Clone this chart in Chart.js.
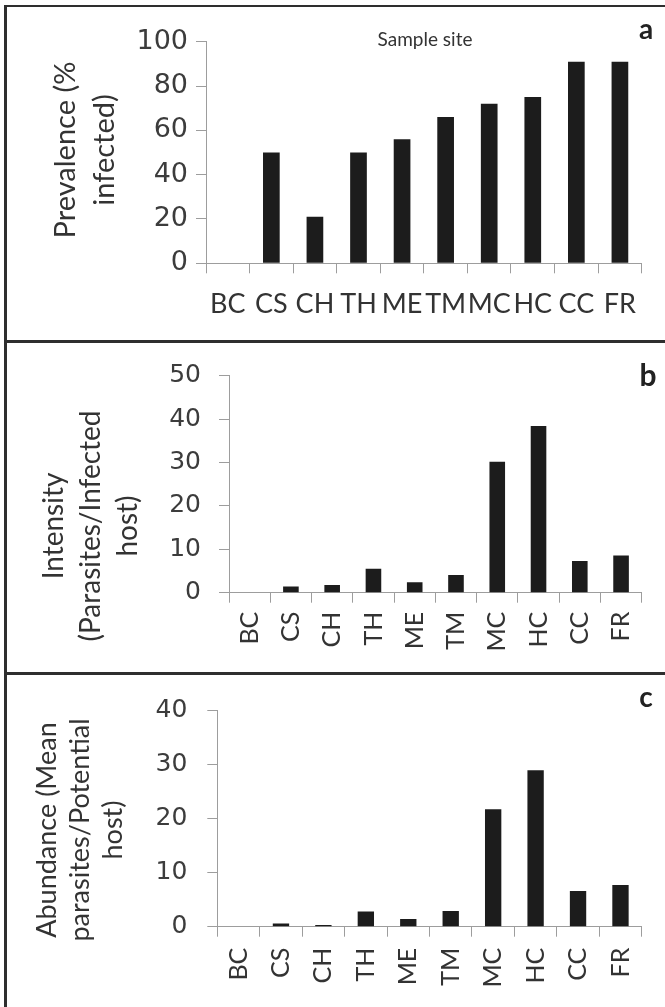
<!DOCTYPE html>
<html><head><meta charset="utf-8">
<script src="https://cdn.jsdelivr.net/npm/chart.js@4.4.1/dist/chart.umd.min.js"></script>
<style>
body{margin:0;background:#fff;}
#wrap{position:relative;width:665px;height:1007px;overflow:hidden;background:#fff;}
canvas{position:absolute;left:0;}
.ln{position:absolute;background:#2e2e2e;}
</style></head><body>
<div id="wrap">
<canvas id="ca" width="665" height="340" style="top:0px;width:665px;height:340px"></canvas>
<canvas id="cb" width="665" height="334" style="top:340px;width:665px;height:334px"></canvas>
<canvas id="cc" width="665" height="334" style="top:673px;width:665px;height:334px"></canvas>
<div class="ln" style="left:4px;top:5px;width:661px;height:2px"></div>
<div class="ln" style="left:4px;top:5px;width:3px;height:1002px"></div>
<div class="ln" style="left:4px;top:340px;width:661px;height:2.5px"></div>
<div class="ln" style="left:4px;top:672px;width:661px;height:2.5px"></div>
</div>
<script>
// ---- data ----
const sites = ['BC','CS','CH','TH','ME','TM','MC','HC','CC','FR'];
const prevalence = [0,50,21,50,56,66,72,75,91,91];
const intensity = [0,1.4,1.8,5.5,2.4,4.1,30.2,38.4,7.3,8.6];
const abundance = [0,0.6,0.3,2.8,1.4,2.9,21.7,28.9,6.6,7.7];
const ticksA = [0,20,40,60,80,100];
const ticksB = [0,10,20,30,40,50];
const ticksC = [0,10,20,30,40];
const titleA = ['Prevalence (%','infected)'];
const titleB = ['Intensity','(Parasites/Infected','host)'];
const titleC = ['Abundance (Mean','parasites/Potential','host)'];
const letters = ['a','b','c'];
const sampleSite = 'Sample site';

const AXIS = '#9d9d9d';
const TXT = '#333333';
const BAR = '#1c1c1c';

const textPlugin = {
  id: 'panelText',
  afterDraw(chart, args, o) {
    const ctx = chart.ctx;
    ctx.save();
    ctx.fillStyle = TXT;
    ctx.textAlign = 'center';
    ctx.textBaseline = 'middle';
    ctx.font = o.titleFont;
    o.title.forEach((line, i) => {
      ctx.save();
      ctx.translate(o.tx + i * o.tdx, o.ty);
      ctx.rotate(-Math.PI / 2);
      ctx.fillText(line, 0, 0);
      ctx.restore();
    });
    ctx.fillStyle = '#222';
    ctx.font = o.letterFont;
    ctx.fillText(o.letter, o.lx, o.ly);
    if (o.extra) {
      ctx.fillStyle = TXT;
      ctx.font = o.extraFont;
      ctx.fillText(o.extra, o.ex, o.ey);
    }
    ctx.restore();
  }
};

function makeChart(id, values, ticks, cfg) {
  const ctx = document.getElementById(id);
  return new Chart(ctx, {
    type: 'bar',
    data: {
      labels: sites,
      datasets: [{
        data: values,
        backgroundColor: BAR,
        borderWidth: 0,
        categoryPercentage: 1,
        barPercentage: cfg.barPct
      }]
    },
    options: {
      responsive: false,
      animation: false,
      devicePixelRatio: 1,
      layout: { padding: { left: 0, top: cfg.top, right: cfg.right, bottom: 0 } },
      plugins: {
        legend: { display: false },
        tooltip: { enabled: false },
        panelText: cfg.text
      },
      scales: {
        x: {
          grid: { display: true, drawOnChartArea: false, drawTicks: true, tickLength: 10, color: AXIS, offset: true, lineWidth: 1 },
          border: { display: true, color: AXIS, width: 1 },
          ticks: {
            autoSkip: false,
            minRotation: cfg.rot, maxRotation: cfg.rot,
            padding: cfg.xPad,
            color: TXT,
            font: { family: 'Lato', size: cfg.xFont }
          },
          afterFit(s) { s.height = cfg.xH; }
        },
        y: {
          min: ticks[0], max: ticks[ticks.length - 1],
          grid: { display: true, drawOnChartArea: false, drawTicks: true, tickLength: 10, color: AXIS, lineWidth: 1 },
          border: { display: true, color: AXIS, width: 1 },
          ticks: {
            stepSize: ticks[1] - ticks[0],
            padding: cfg.yPad,
            color: '#3c3c3c',
            font: { family: 'DejaVu Sans', size: cfg.yFont }
          },
          afterFit(s) { s.width = cfg.yW; }
        }
      }
    },
    plugins: [textPlugin]
  });
}

makeChart('ca', prevalence, ticksA, {
  barPct: 0.383, top: 41.7, right: 23.3, yW: 206, xH: 76.7, rot: 0, xPad: 15, xFont: 27, yPad: 8, yFont: 27,
  text: { title: titleA, titleFont: '29px Lato', tx: 66, tdx: 39, ty: 150,
          letter: letters[0], letterFont: 'bold 28px Lato', lx: 646, ly: 30,
          extra: sampleSite, extraFont: '19px Lato', ex: 425, ey: 40 }
});
makeChart('cb', intensity, ticksB, {
  barPct: 0.378, top: 35.7, right: 23.3, yW: 229, xH: 81.3, rot: 90, xPad: 9, xFont: 25, yPad: 18, yFont: 25,
  text: { title: titleB, titleFont: '28px Lato', tx: 54, tdx: 37, ty: 186,
          letter: letters[1], letterFont: 'bold 30px Lato', lx: 648, ly: 36 }
});
makeChart('cc', abundance, ticksC, {
  barPct: 0.385, top: 37, right: 23.3, yW: 217.3, xH: 80.3, rot: 90, xPad: 11, xFont: 25, yPad: 20, yFont: 25,
  text: { title: titleC, titleFont: '27px Lato', tx: 47, tdx: 33, ty: 157,
          letter: letters[2], letterFont: 'bold 28px Lato', lx: 646, ly: 25 }
});
</script>
</body></html>
